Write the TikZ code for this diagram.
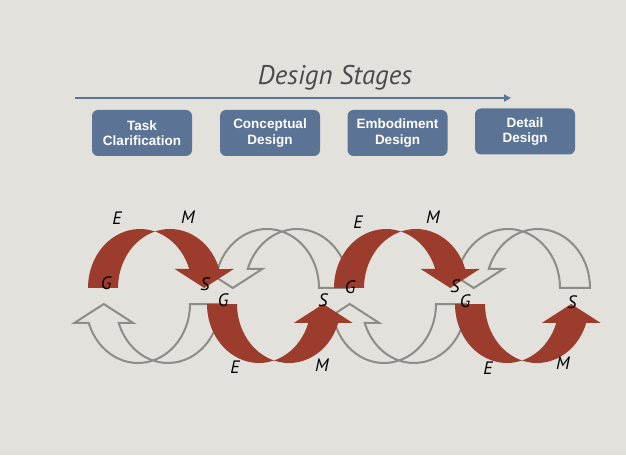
\documentclass[tikz,border=0pt]{standalone}
\usepackage{fontspec}
\newfontfamily\boxfont{Liberation Sans}
\newfontfamily\handfont{PT Sans}
\usetikzlibrary{arrows.meta}
\definecolor{bg}{RGB}{226,225,220}
\definecolor{boxblue}{RGB}{91,116,150}
\definecolor{linkblue}{RGB}{92,116,150}
\definecolor{arrred}{RGB}{155,60,44}
\definecolor{arrgray}{RGB}{140,140,137}
\definecolor{titlegray}{RGB}{75,75,75}
\tikzset{
  stagebox/.style={draw=none, fill=boxblue, rounded corners=6pt, minimum width=100pt, minimum height=46pt,
    text=white, font=\boxfont\bfseries\fontsize{13.5}{15.5}\selectfont, align=center, inner sep=0pt},
  redarr/.style={fill=arrred, draw=none},
  grayarr/.style={draw=arrgray, line width=2pt, fill=none, line join=miter},
  lbl/.style={font=\handfont\itshape\fontsize{18}{18}\selectfont, text=black, inner sep=0pt}
}
\newcommand{\curvedband}[1]{%
  \path[#1] (-67,0) arc[start angle=180,end angle=73.23,x radius=52,y radius=59]
      arc[start angle=106.77,end angle=18.78,x radius=52,y radius=59]
      -- (78.73,19) -- (49.23,0) -- (19.73,19) -- (34.23,19)
      arc[start angle=18.78,end angle=73.23,x radius=52,y radius=59]
      arc[start angle=106.77,end angle=180,x radius=52,y radius=59] -- cycle;}
\begin{document}
\begin{tikzpicture}[x=1pt,y=1pt]
\fill[bg] (0,0) rectangle (626,455);
\useasboundingbox (0,0) rectangle (626,455);

% title and stage arrow
\node[font=\handfont\itshape\fontsize{27}{27}\selectfont, text=titlegray] (title) at (335,377) {Design Stages};
\coordinate (arrS) at (75,357);
\coordinate (arrE) at (511,357);
\draw[linkblue, line width=2pt, -{Triangle[length=7pt,width=7pt]}] (arrS) -- (arrE);

% stage boxes
\node[stagebox] (task) at (142,322) {Task\\Clarification};
\node[stagebox] (concept) at (270,322) {Conceptual\\Design};
\node[stagebox] (embod) at (397.5,322) {Embodiment\\Design};
\node[stagebox] (detail) at (525,323.5) {Detail\\Design};

% gray arrows
\begin{scope}[shift={(282,167)}, xscale=-1] \curvedband{grayarr} \end{scope}
\begin{scope}[shift={(523,167)}, xscale=-1] \curvedband{grayarr} \end{scope}
\begin{scope}[shift={(153,151)}, xscale=-1, yscale=-1] \curvedband{grayarr} \end{scope}
\begin{scope}[shift={(399,151)}, xscale=-1, yscale=-1] \curvedband{grayarr} \end{scope}

% red arrows
\begin{scope}[shift={(155,167)}] \curvedband{redarr} \end{scope}
\begin{scope}[shift={(401,167)}] \curvedband{redarr} \end{scope}
\begin{scope}[shift={(274,151)}, yscale=-1] \curvedband{redarr} \end{scope}
\begin{scope}[shift={(522,151)}, yscale=-1] \curvedband{redarr} \end{scope}

% labels
\node[lbl] (e1) at (117,237) {E};
\node[lbl] (m1) at (188,238) {M};
\node[lbl] (g1) at (106,172) {G};
\node[lbl] (s1) at (205,171) {S};

\node[lbl] (g2) at (223,155) {G};
\node[lbl] (s2) at (323,155) {S};
\node[lbl] (e2) at (235,88) {E};
\node[lbl] (m2) at (322,90) {M};

\node[lbl] (e3) at (358,233) {E};
\node[lbl] (m3) at (433,238) {M};
\node[lbl] (g3) at (350,168) {G};
\node[lbl] (s3) at (455,169) {S};

\node[lbl] (g4) at (465,154) {G};
\node[lbl] (s4) at (572,153) {S};
\node[lbl] (e4) at (488,87) {E};
\node[lbl] (m4) at (563,92) {M};
\end{tikzpicture}
\end{document}
